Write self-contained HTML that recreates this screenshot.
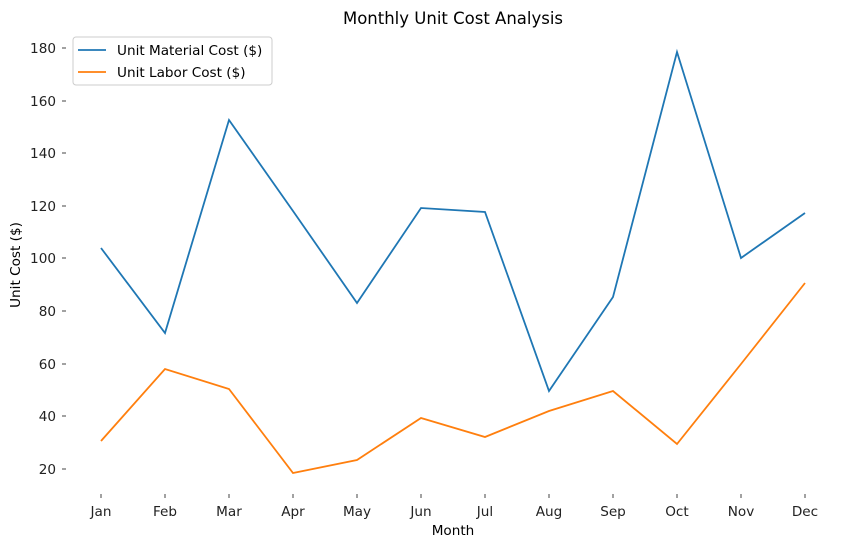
<!DOCTYPE html>
<html><head><meta charset="utf-8"><style>
body{margin:0;background:#fff;}
svg{display:block;font-family:"DejaVu Sans","Liberation Sans",sans-serif;}
</style></head><body>
<svg width="850" height="547" viewBox="0 0 850 547">
<rect width="850" height="547" fill="#fff"/>
<text x="453" y="24" font-size="16.5" text-anchor="middle" fill="#000">Monthly Unit Cost Analysis</text>
<g font-size="13.6" fill="#222" text-anchor="end">
<text x="56" y="53">180</text>
<text x="56" y="106">160</text>
<text x="56" y="158">140</text>
<text x="56" y="211">120</text>
<text x="56" y="263">100</text>
<text x="56" y="316">80</text>
<text x="56" y="369">60</text>
<text x="56" y="421">40</text>
<text x="56" y="474">20</text>
</g>
<g stroke="#444" stroke-width="1">
<line x1="62" y1="48" x2="66" y2="48"/><line x1="62" y1="101" x2="66" y2="101"/><line x1="62" y1="153" x2="66" y2="153"/><line x1="62" y1="206" x2="66" y2="206"/><line x1="62" y1="258" x2="66" y2="258"/><line x1="62" y1="311" x2="66" y2="311"/><line x1="62" y1="364" x2="66" y2="364"/><line x1="62" y1="416" x2="66" y2="416"/><line x1="62" y1="469" x2="66" y2="469"/>
</g>
<g font-size="13.6" fill="#222" text-anchor="middle">
<text x="101" y="516">Jan</text><text x="165" y="516">Feb</text><text x="229" y="516">Mar</text><text x="293" y="516">Apr</text><text x="357" y="516">May</text><text x="421" y="516">Jun</text><text x="485" y="516">Jul</text><text x="549" y="516">Aug</text><text x="613" y="516">Sep</text><text x="677" y="516">Oct</text><text x="741" y="516">Nov</text><text x="805" y="516">Dec</text>
</g>
<g stroke="#444"><line x1="101" y1="494" x2="101" y2="498"/><line x1="165" y1="494" x2="165" y2="498"/><line x1="229" y1="494" x2="229" y2="498"/><line x1="293" y1="494" x2="293" y2="498"/><line x1="357" y1="494" x2="357" y2="498"/><line x1="421" y1="494" x2="421" y2="498"/><line x1="485" y1="494" x2="485" y2="498"/><line x1="549" y1="494" x2="549" y2="498"/><line x1="613" y1="494" x2="613" y2="498"/><line x1="677" y1="494" x2="677" y2="498"/><line x1="741" y1="494" x2="741" y2="498"/><line x1="805" y1="494" x2="805" y2="498"/></g>
<text x="453" y="535" font-size="13.6" text-anchor="middle" fill="#000">Month</text>
<text transform="translate(20,265) rotate(-90)" font-size="13.6" text-anchor="middle" fill="#000">Unit Cost ($)</text>
<polyline fill="none" stroke="#1f77b4" stroke-width="1.8" points="101,248 165,333 229,120 293,211 357,303 421,208 485,212 549,391 613,297 677,52 741,258 805,213"/>
<polyline fill="none" stroke="#ff7f0e" stroke-width="1.8" points="101,441 165,369 229,389 293,473 357,460 421,418 485,437 549,411 613,391 677,444 741,364 805,283"/>
<rect x="73" y="37" width="199" height="48" rx="3" fill="#fff" fill-opacity="0.8" stroke="#ccc"/>
<line x1="78" y1="50" x2="106" y2="50" stroke="#1f77b4" stroke-width="1.8"/>
<line x1="78" y1="72" x2="106" y2="72" stroke="#ff7f0e" stroke-width="1.8"/>
<text x="117" y="55" font-size="13.6" fill="#000">Unit Material Cost ($)</text>
<text x="117" y="77" font-size="13.6" fill="#000">Unit Labor Cost ($)</text>
</svg>
</body></html>
